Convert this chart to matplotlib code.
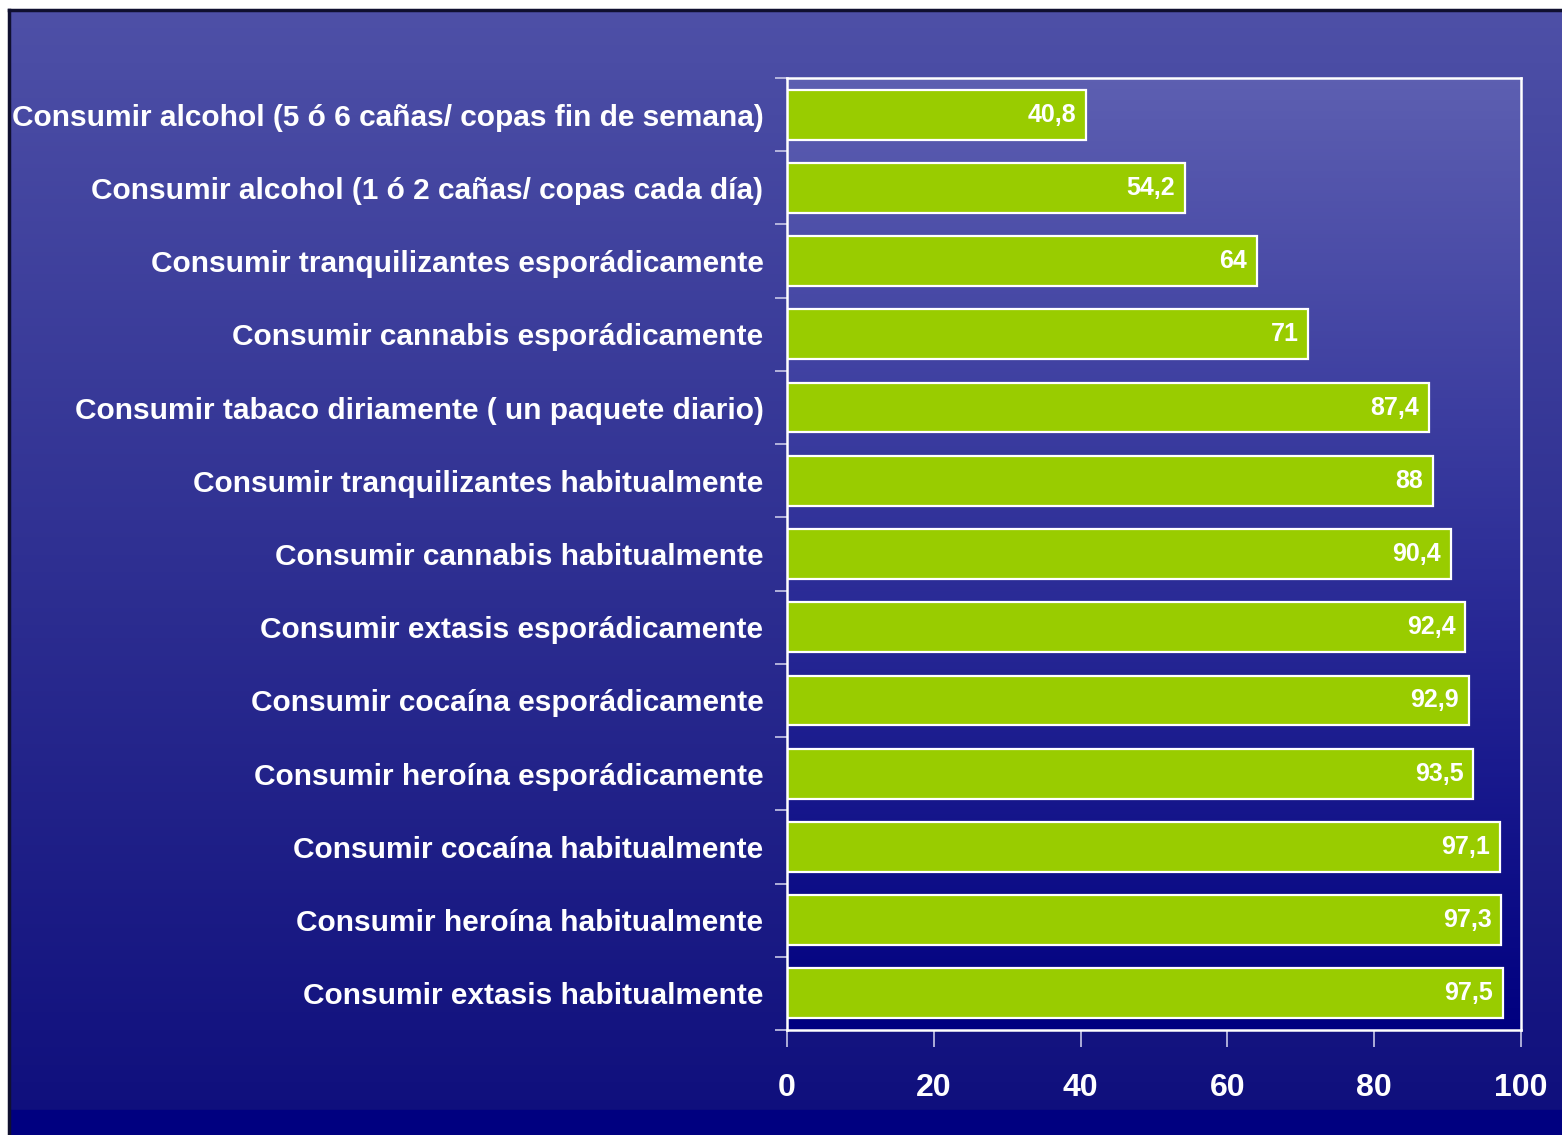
import numpy as np
import matplotlib
matplotlib.use("Agg")
import matplotlib.pyplot as plt

categories = [
    "Consumir alcohol (5 ó 6 cañas/ copas fin de semana)",
    "Consumir alcohol (1 ó 2 cañas/ copas cada día)",
    "Consumir tranquilizantes esporádicamente",
    "Consumir cannabis esporádicamente",
    "Consumir tabaco diriamente ( un paquete diario)",
    "Consumir tranquilizantes habitualmente",
    "Consumir cannabis habitualmente",
    "Consumir extasis esporádicamente",
    "Consumir cocaína esporádicamente",
    "Consumir heroína esporádicamente",
    "Consumir cocaína habitualmente",
    "Consumir heroína habitualmente",
    "Consumir extasis habitualmente",
]
values = [40.8, 54.2, 64, 71, 87.4, 88, 90.4, 92.4, 92.9, 93.5, 97.1, 97.3, 97.5]
value_labels = ["40,8", "54,2", "64", "71", "87,4", "88", "90,4", "92,4", "92,9", "93,5", "97,1", "97,3", "97,5"]
xticks = [0, 20, 40, 60, 80, 100]

plt.rcParams['font.family'] = ['Liberation Sans', 'DejaVu Sans']
plt.rcParams['font.weight'] = 'bold'

W, H = 1562, 1135
fig = plt.figure(figsize=(W / 100, H / 100), dpi=100)
fig.patch.set_facecolor('white')

# background gradient panel
bg = fig.add_axes([9 / W, 0, 1 - 9 / W, 1 - 10 / H])
bg.set_axis_off()
n = 256
t = np.linspace(0, 1, n)[:, None]
top = np.array([78, 80, 167]) / 255
bot = np.array([14, 14, 124]) / 255
grad = (top * (1 - t[..., None]) + bot * t[..., None]).reshape(n, 1, 3)
bg.imshow(grad, aspect='auto', extent=[0, 1, 0, 1], origin='upper')
bg.add_patch(plt.Rectangle((0, 0), 1, 25 / H, color='#000080', zorder=2))
bg.plot([0, 0], [0, 1], color='#101030', lw=2.5, zorder=3, transform=bg.transAxes, clip_on=False)
bg.plot([0, 1], [1, 1], color='#101030', lw=2.5, zorder=3, transform=bg.transAxes, clip_on=False)
bg.set_xlim(0, 1)
bg.set_ylim(0, 1)

ax = fig.add_axes([787 / W, 1 - 1030 / H, (1521 - 787) / W, (1030 - 78) / H])
ax.set_facecolor('none')
ptop = np.array([93, 95, 177]) / 255
pbot = np.array([0, 0, 128]) / 255
pgrad = (ptop * (1 - t[..., None]) + pbot * t[..., None]).reshape(n, 1, 3)
ax.imshow(pgrad, aspect='auto', extent=[0, 100, 12.5, -0.5], zorder=0)

y = np.arange(len(categories))
ax.barh(y, values, height=0.68, color='#99cc00', edgecolor='white', linewidth=1.6, zorder=2)
for yi, v, lab in zip(y, values, value_labels):
    ax.annotate(lab, (v, yi), xytext=(-7, 0), textcoords='offset points',
                ha='right', va='center', color='white', fontsize=18, fontweight='bold', zorder=3)

ax.set_xlim(0, 100)
ax.set_ylim(12.5, -0.5)
ax.set_xticks(xticks)
ax.set_xticklabels([str(x) for x in xticks], fontsize=23, fontweight='bold', color='white')
ax.tick_params(axis='x', length=12, width=1.2, color='#c8c8e8', pad=19)
ax.set_yticks(y)
ax.set_yticklabels(categories, fontsize=21.5, fontweight='bold', color='white')
ax.tick_params(axis='y', which='major', length=0, pad=17)
ax.set_yticks(np.arange(-0.5, 13, 1), minor=True)
ax.tick_params(axis='y', which='minor', length=9, width=1.2, color='#c8c8e8')
for s in ax.spines.values():
    s.set_color('white')
    s.set_linewidth(1.8)

fig.savefig('out.png', dpi=100, facecolor=fig.get_facecolor())
